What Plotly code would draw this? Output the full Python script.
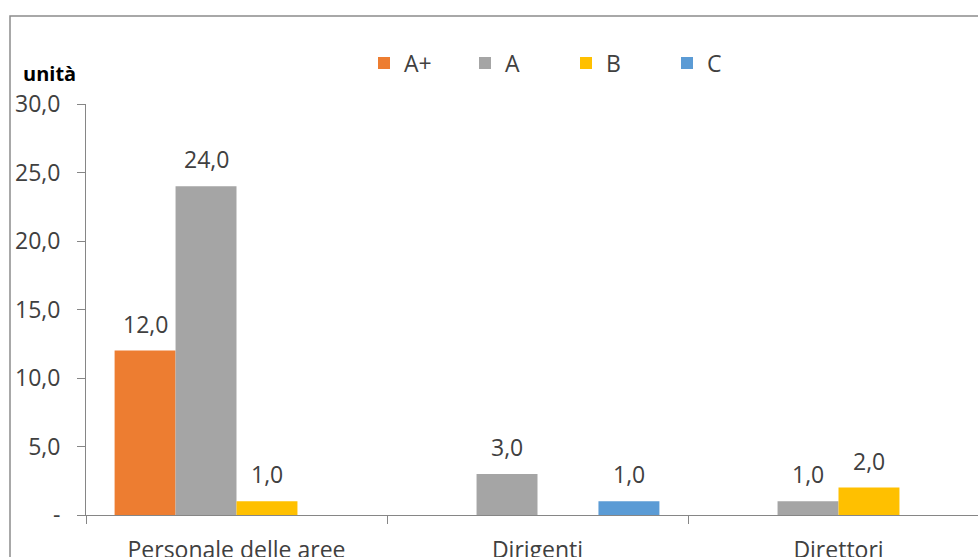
import plotly.graph_objects as go

# Categories and series
categories = ["Personale delle aree", "Dirigenti", "Direttori"]
series_names = ["A+", "A", "B", "C"]
values_a_plus = [12.0, None, None]
values_a = [24.0, 3.0, 1.0]
values_b = [1.0, None, 2.0]
values_c = [None, 1.0, None]
colors = ["#ED7D31", "#A5A5A5", "#FFC000", "#5B9BD5"]

y_tickvals = [0, 5, 10, 15, 20, 25, 30]
y_ticktext = ["-", "5,0", "10,0", "15,0", "20,0", "25,0", "30,0"]

all_values = [values_a_plus, values_a, values_b, values_c]

FONT = "Open Sans"
TEXT_COLOR = "#404040"
AXIS_COLOR = "#868686"
BARGAP = 0.19
FS = 23

W, H = 978, 557
M_L, M_T, M_B = 86, 104, 42
plot_w = W - M_L
plot_h = H - M_T - M_B


def fmt(v):
    return f"{v:.1f}".replace(".", ",")


fig = go.Figure()
for name, vals, col in zip(series_names, all_values, colors):
    fig.add_trace(go.Bar(
        name=name, x=categories, y=vals,
        marker=dict(color=col, line=dict(width=0)),
        hoverinfo="skip",
    ))

# Value labels above each bar
n = len(series_names)
bar_w = (1 - BARGAP) / n
annotations = []
for k, vals in enumerate(all_values):
    for i, v in enumerate(vals):
        if v is None:
            continue
        annotations.append(dict(
            x=i + (k - (n - 1) / 2) * bar_w, y=v, xref="x", yref="y",
            text=fmt(v), showarrow=False, yanchor="bottom", yshift=9,
            font=dict(family=FONT, size=FS, color=TEXT_COLOR),
        ))

annotations.append(dict(
    x=(21 - M_L) / plot_w, y=(H - M_B - 73) / plot_h, xref="paper", yref="paper",
    text="<b>unità</b>", showarrow=False, xanchor="left", yanchor="middle",
    font=dict(family=FONT, size=20, color="#000000"),
))

# range so that the category width is ~301 px
cat_px = 301
x_range = [-0.5, -0.5 + plot_w / cat_px]

fig.update_layout(
    width=W, height=H,
    margin=dict(l=M_L, r=0, t=M_T, b=M_B, autoexpand=False),
    paper_bgcolor="white", plot_bgcolor="white",
    barmode="group", bargap=BARGAP, bargroupgap=0,
    font=dict(family=FONT, size=FS, color=TEXT_COLOR),
    showlegend=True,
    legend=dict(
        orientation="h", x=(364 - M_L) / plot_w, y=(H - M_B - 63) / plot_h,
        xanchor="left", yanchor="middle",
        entrywidth=56, entrywidthmode="pixels",
        font=dict(family=FONT, size=FS, color=TEXT_COLOR),
        bgcolor="rgba(0,0,0,0)", traceorder="normal",
    ),
    annotations=annotations,
    shapes=[dict(
        type="rect", xref="paper", yref="paper",
        x0=(10 - M_L) / plot_w, x1=1.2,
        y0=-0.3, y1=(H - M_B - 16) / plot_h,
        line=dict(color="#8C8C8C", width=1.5), fillcolor="rgba(0,0,0,0)",
        layer="below",
    )],
    xaxis=dict(
        type="category", range=x_range, automargin=False,
        showline=True, linecolor=AXIS_COLOR, linewidth=1,
        ticks="outside", tickson="boundaries", ticklen=8, tickcolor=AXIS_COLOR,
        showgrid=False, zeroline=False, ticklabelstandoff=14,
        tickfont=dict(family=FONT, size=FS, color=TEXT_COLOR),
        fixedrange=True,
    ),
    yaxis=dict(
        range=[0, 30], tickvals=y_tickvals, ticktext=y_ticktext, automargin=False,
        showline=True, linecolor=AXIS_COLOR, linewidth=1,
        ticks="outside", ticklen=8, tickcolor=AXIS_COLOR,
        showgrid=False, zeroline=False, ticklabelstandoff=12,
        tickfont=dict(family=FONT, size=FS, color=TEXT_COLOR),
        fixedrange=True,
    ),
)

fig.write_html("out.html", config={"displayModeBar": False})
